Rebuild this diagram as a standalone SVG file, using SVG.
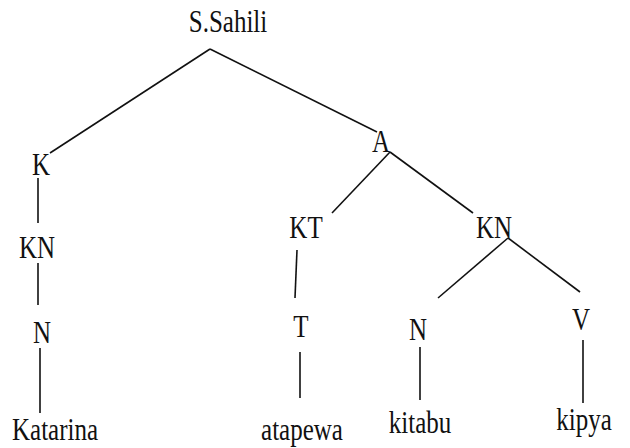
<svg xmlns="http://www.w3.org/2000/svg" width="630" height="448" viewBox="0 0 630 448">
<style>
text{font-family:"Liberation Serif","Times New Roman",serif;font-size:25px;fill:#111;text-anchor:middle}
.e line{stroke:#111;stroke-width:1.6;fill:none}
</style>
<rect width="630" height="448" fill="#fff"/>
<g class="e" id="connectors">
<line x1="210" y1="49" x2="50" y2="153"/>
<line x1="210" y1="49" x2="377" y2="132"/>
<line x1="390" y1="152" x2="332" y2="213"/>
<line x1="390" y1="152" x2="473" y2="213"/>
<line x1="38" y1="178" x2="38" y2="223"/>
<line x1="38" y1="263" x2="38" y2="305"/>
<line x1="40" y1="348" x2="40" y2="413"/>
<line x1="297" y1="250" x2="295" y2="298"/>
<line x1="300" y1="352" x2="300" y2="398"/>
<line x1="508" y1="238" x2="438" y2="298"/>
<line x1="508" y1="238" x2="580" y2="292"/>
<line x1="420" y1="347" x2="420" y2="400"/>
<line x1="583" y1="340" x2="583" y2="403"/>
</g>
<g id="n-root"><text transform="translate(228,32) scale(1,1.25)">S.Sahili</text></g>
<g id="n-K"><text transform="translate(41,175) scale(1,1.25)">K</text></g>
<g id="n-A"><text transform="translate(381,152) scale(1,1.25)">A</text></g>
<g id="n-KN1"><text transform="translate(37,258) scale(1,1.25)">KN</text></g>
<g id="n-N1"><text transform="translate(42,343) scale(1,1.25)">N</text></g>
<g id="n-Katarina"><text transform="translate(55,440) scale(1,1.25)">Katarina</text></g>
<g id="n-KT"><text transform="translate(306,238) scale(1,1.25)">KT</text></g>
<g id="n-T"><text transform="translate(301,337) scale(1,1.25)">T</text></g>
<g id="n-atapewa"><text transform="translate(302,440) scale(1,1.25)">atapewa</text></g>
<g id="n-KN2"><text transform="translate(494,238) scale(1,1.25)">KN</text></g>
<g id="n-N2"><text transform="translate(418,340) scale(1,1.25)">N</text></g>
<g id="n-kitabu"><text transform="translate(420,433) scale(1,1.25)">kitabu</text></g>
<g id="n-V"><text transform="translate(581,330) scale(1,1.25)">V</text></g>
<g id="n-kipya"><text transform="translate(584,430) scale(1,1.25)">kipya</text></g>
</svg>
